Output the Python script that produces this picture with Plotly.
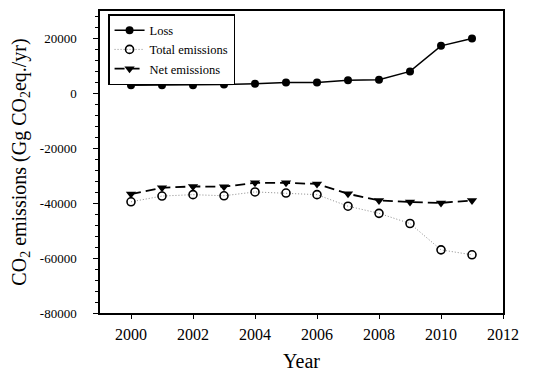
import plotly.graph_objects as go

years = [2000, 2001, 2002, 2003, 2004, 2005, 2006, 2007, 2008, 2009, 2010, 2011]
loss = [3000, 3000, 3000, 3200, 3500, 4000, 4000, 4800, 5000, 8000, 17300, 20000]
total_emissions = [-39500, -37400, -36900, -37300, -35900, -36300, -36900, -41100, -43700, -47400, -57000, -58800]
net_emissions = [-36700, -34400, -33900, -34000, -32600, -32600, -33000, -36600, -39000, -39600, -39900, -39000]

y_ticks = [20000, 0, -20000, -40000, -60000, -80000]
x_ticks = [2000, 2002, 2004, 2006, 2008, 2010, 2012]

serif = "Liberation Serif"

fig = go.Figure()
fig.add_trace(go.Scatter(
    x=years, y=loss, name="Loss", mode="lines+markers",
    line=dict(color="black", width=1.5, dash="solid"),
    marker=dict(symbol="circle", size=8, color="black"),
))
fig.add_trace(go.Scatter(
    x=years, y=total_emissions, name="Total emissions", mode="lines+markers",
    line=dict(color="#8a8a8a", width=1, dash="1px,2px"),
    marker=dict(symbol="circle-open", size=8, color="black", line=dict(width=1.6, color="black")),
))
fig.add_trace(go.Scatter(
    x=years, y=net_emissions, name="Net emissions", mode="lines+markers",
    line=dict(color="black", width=1.8, dash="10px,5px"),
    marker=dict(symbol="triangle-down", size=9, color="black"),
))

# page body has an 8px margin, so the figure is sized/offset to compensate
fig.update_layout(
    width=538, height=368,
    margin=dict(l=92, r=43, t=3, b=63),
    paper_bgcolor="white", plot_bgcolor="white",
    font=dict(family=serif, color="black"),
    showlegend=True,
    legend=dict(
        x=0.02, y=0.99, xanchor="left", yanchor="top",
        bordercolor="black", borderwidth=1.5, bgcolor="white",
        font=dict(family=serif, size=12.5, color="black"),
        itemwidth=30, tracegroupgap=0,
    ),
)
fig.update_xaxes(
    range=[1999, 2012], tickvals=x_ticks, ticktext=[str(v) for v in x_ticks],
    showgrid=False, zeroline=False, showline=True, linecolor="black", linewidth=1.5,
    mirror=True, ticks="outside", ticklen=4, tickwidth=1.2, tickcolor="black",
    ticklabelstandoff=2, automargin=False,
    tickfont=dict(family=serif, size=16, color="black"),
    title=dict(text="Year", font=dict(family=serif, size=20, color="black"), standoff=12),
)
fig.update_yaxes(
    range=[-80000, 30000], tickvals=y_ticks, ticktext=[str(v) for v in y_ticks],
    showgrid=False, zeroline=False, showline=True, linecolor="black", linewidth=1.5,
    mirror=True, ticks="outside", ticklen=5, tickwidth=1.2, tickcolor="black",
    ticklabelstandoff=14, automargin=False,
    tickfont=dict(family=serif, size=13, color="black"),
    minor=dict(dtick=4000, tick0=0, ticks="outside", ticklen=3, tickwidth=1, tickcolor="black", showgrid=False),
    title=dict(text="CO<sub>2</sub> emissions (Gg CO<sub>2</sub>eq./yr)",
               font=dict(family=serif, size=20, color="black"), standoff=15),
)

fig.write_html("out.html")
